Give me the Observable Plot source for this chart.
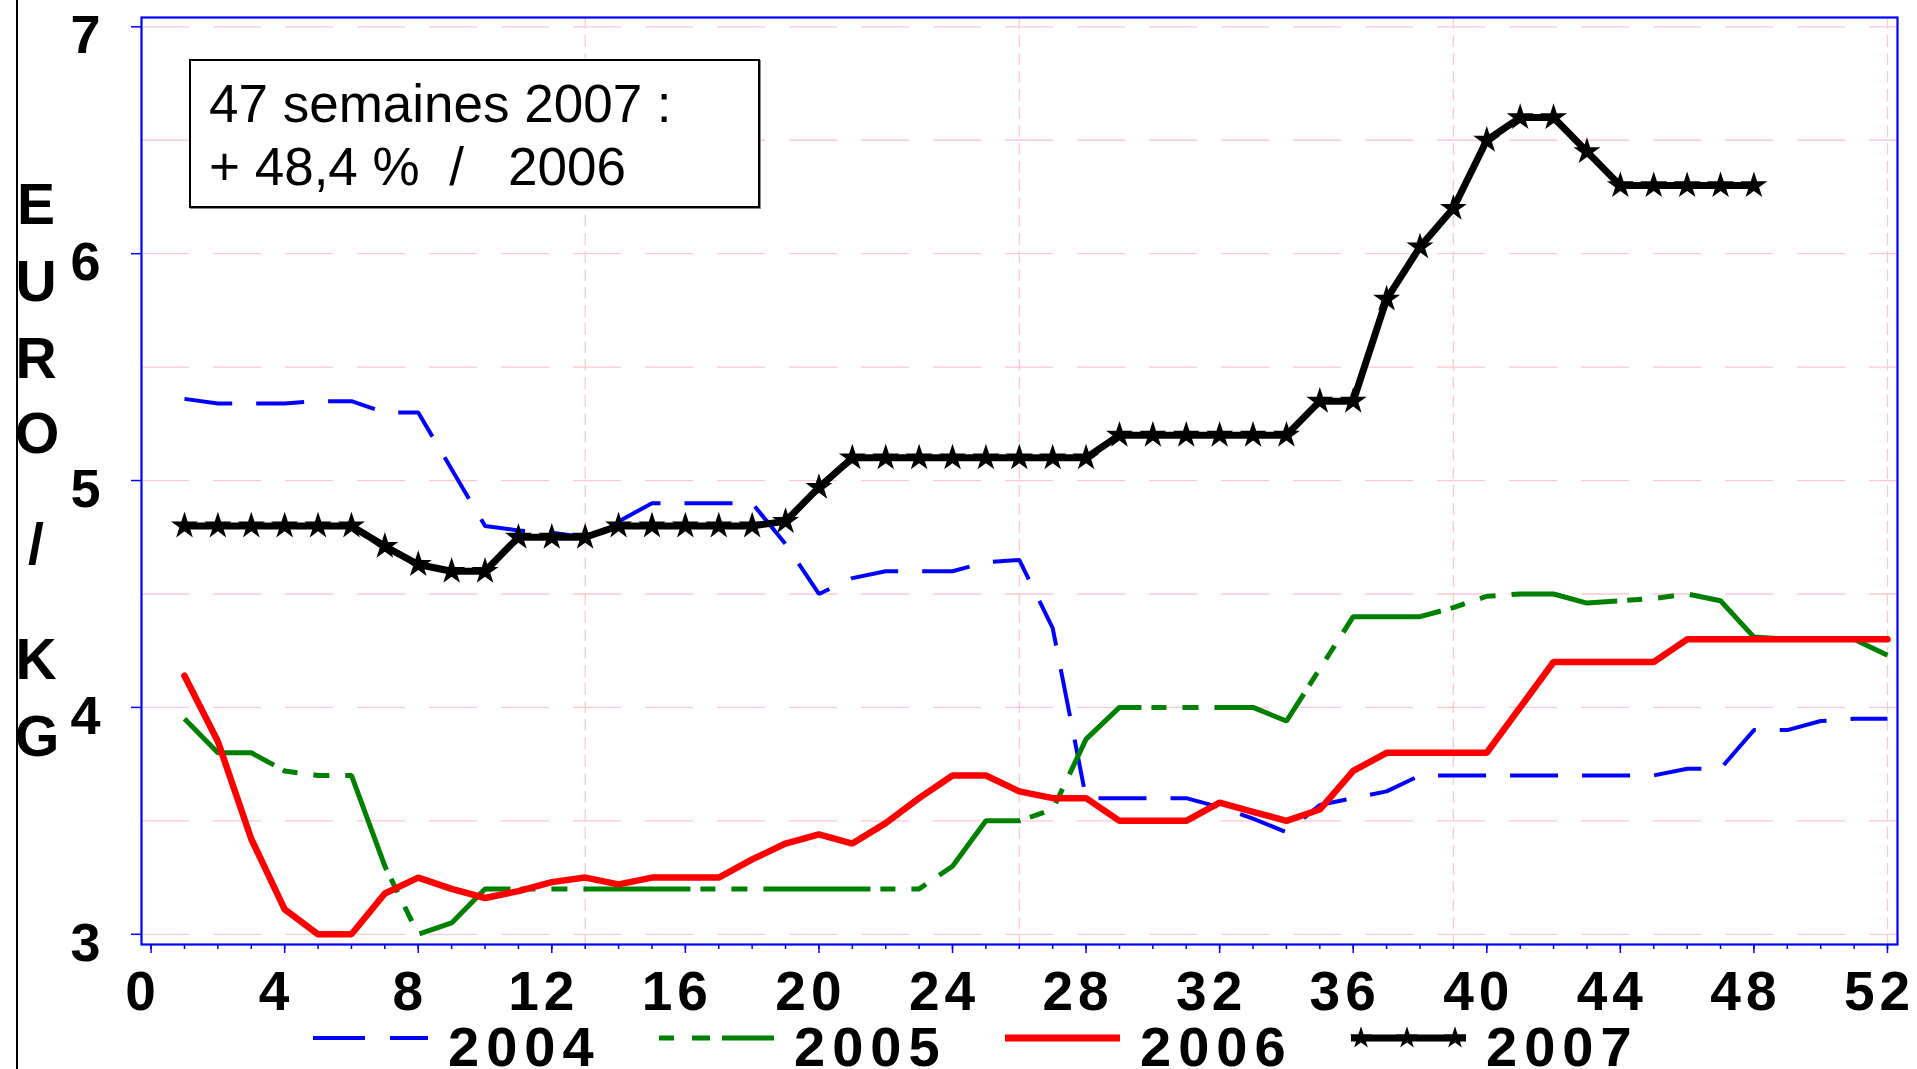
<!DOCTYPE html>
<html>
<head>
<meta charset="utf-8">
<script src="https://cdn.jsdelivr.net/npm/d3@7"></script>
<script src="https://cdn.jsdelivr.net/npm/@observablehq/plot@0.6"></script>
<style>
  html, body { margin: 0; padding: 0; background: #fff; overflow: hidden; }
  #wrap { position: relative; width: 1917px; height: 1069px; font-family: "Liberation Sans", Arial, sans-serif; color: #000; }
  #chart { position: absolute; left: 0; top: 0; }
  #vline { position: absolute; left: 16px; top: 0; width: 2px; height: 1069px; background: #000; }
  .ylet { position: absolute; left: 15px; width: 42px; text-align: center; font-weight: bold; font-size: 57px; line-height: 57px; }
  #note { position: absolute; left: 189px; top: 59px; width: 549px; height: 134px; border: 2px solid #000;
          box-shadow: 1px 1px 0 #888; background: #fff; font-size: 53px; line-height: 63px; white-space: pre;
          padding: 11px 0 0 18px; box-sizing: content-box; }
  #legend { position: absolute; left: 313px; top: 1027px; display: flex; }
  .item { width: 346px; height: 40px; display: flex; align-items: flex-start; }
  .item svg { width: 115px; height: 40px; flex: none; overflow: visible; }
  .item span { display: inline-block; height: 40px; overflow: hidden; margin-left: 20px; font-weight: bold;
               font-size: 56px; line-height: 40px; letter-spacing: 7px; }
  g[aria-label="x-axis tick label"] text { letter-spacing: 5px; }
</style>
</head>
<body>
<div id="wrap">
  <div id="chart"></div>
  <div id="vline"></div>
  <div class="ylet" style="top:176px">E</div>
  <div class="ylet" style="top:253px">U</div>
  <div class="ylet" style="top:330px">R</div>
  <div class="ylet" style="top:405px">O</div>
  <div class="ylet" style="top:516px">/</div>
  <div class="ylet" style="top:631px">K</div>
  <div class="ylet" style="top:708px">G</div>
  <div id="note">47 semaines 2007 :
+ 48,4 %  /   2006</div>
  <div id="legend"></div>
</div>
<script>
// ---- data ----
const weeks = [1,2,3,4,5,6,7,8,9,10,11,12,13,14,15,16,17,18,19,20,21,22,23,24,25,26,
               27,28,29,30,31,32,33,34,35,36,37,38,39,40,41,42,43,44,45,46,47,48,49,50,51,52];
const weeks2007 = [1,2,3,4,5,6,7,8,9,10,11,12,13,14,15,16,17,18,19,20,21,22,23,24,
                   25,26,27,28,29,30,31,32,33,34,35,36,37,38,39,40,41,42,43,44,45,46,47,48];

const values2004 = [5.36,5.34,5.34,5.34,5.35,5.35,5.30,5.30,5.05,4.80,4.78,4.77,4.75,4.82,4.90,4.90,
                    4.90,4.90,4.72,4.50,4.57,4.60,4.60,4.60,4.64,4.65,4.35,3.60,3.60,3.60,3.60,3.56,
                    3.51,3.45,3.57,3.60,3.63,3.70,3.70,3.70,3.70,3.70,3.70,3.70,3.70,3.73,3.73,3.90,
                    3.90,3.94,3.95,3.95];
const values2005 = [3.95,3.80,3.80,3.72,3.70,3.70,3.30,3.00,3.05,3.20,3.20,3.20,3.20,3.20,3.20,3.20,
                    3.20,3.20,3.20,3.20,3.20,3.20,3.20,3.30,3.50,3.50,3.55,3.86,4.00,4.00,4.00,4.00,
                    4.00,3.94,4.17,4.40,4.40,4.40,4.44,4.49,4.50,4.50,4.46,4.47,4.48,4.50,4.47,4.31,
                    4.30,4.30,4.30,4.23];
const values2006 = [4.14,3.85,3.42,3.11,3.00,3.00,3.18,3.25,3.20,3.16,3.19,3.23,3.25,3.22,3.25,3.25,
                    3.25,3.33,3.40,3.44,3.40,3.49,3.60,3.70,3.70,3.63,3.60,3.60,3.50,3.50,3.50,3.58,
                    3.54,3.50,3.55,3.72,3.80,3.80,3.80,3.80,4.00,4.20,4.20,4.20,4.20,4.30,4.30,4.30,
                    4.30,4.30,4.30,4.30];
const values2007 = [4.80,4.80,4.80,4.80,4.80,4.80,4.71,4.63,4.60,4.60,4.75,4.75,4.75,4.80,4.80,4.80,
                    4.80,4.80,4.82,4.97,5.10,5.10,5.10,5.10,5.10,5.10,5.10,5.10,5.20,5.20,5.20,5.20,
                    5.20,5.20,5.35,5.35,5.80,6.03,6.20,6.50,6.60,6.60,6.45,6.30,6.30,6.30,6.30,6.30];

const yTicks = [3,4,5,6,7];
const yGrid = [3,3.5,4,4.5,5,5.5,6,6.5,7];
const xTicks = [0,4,8,12,16,20,24,28,32,36,40,44,48,52];
const xMinorTicks = [0,1,2,3,4,5,6,7,8,9,10,11,12,13,14,15,16,17,18,19,20,21,22,23,24,25,26,
                     27,28,29,30,31,32,33,34,35,36,37,38,39,40,41,42,43,44,45,46,47,48,49,50,51,52];
const xGrid = [13,26,39,52];

const seriesNames = ["2004","2005","2006","2007"];
const seriesColors = ["#0000ff","#008000","#ff0000","#000000"];

// ---- tables ----
const d2004 = weeks.map((w,i) => ({week: w, value: values2004[i]}));
const d2005 = weeks.map((w,i) => ({week: w, value: values2005[i]}));
const d2006 = weeks.map((w,i) => ({week: w, value: values2006[i]}));
const d2007 = weeks2007.map((w,i) => ({week: w, value: values2007[i]}));

const grid = "#ffc8d2";
const chart = Plot.plot({
  width: 1917,
  height: 1069,
  marginLeft: 141,
  marginRight: 20,
  marginTop: 17,
  marginBottom: 125,
  style: {fontFamily: '"Liberation Sans", Arial, sans-serif', background: "transparent"},
  x: {domain: [-0.2875, 52.30], label: null},
  y: {domain: [2.955, 7.041], label: null},
  marks: [
    Plot.ruleY(yGrid, {stroke: grid, strokeWidth: 1.3, strokeDasharray: "48,24"}),
    Plot.ruleX(xGrid, {stroke: grid, strokeWidth: 1.3, strokeDasharray: "12,6"}),
    Plot.frame({stroke: "#0000ff", strokeWidth: 2.2}),
    // y ticks + labels
    Plot.axisY({ticks: yTicks, tickSize: 10, stroke: "#0000ff", strokeWidth: 1.5, tickFormat: () => "", label: null}),
    Plot.axisY({ticks: yTicks, tickSize: 0, tickPadding: 41, dy: 9, fill: "#000", fontSize: 54, fontWeight: "bold",
                tickFormat: d => String(d), label: null}),
    // x ticks
    Plot.axisX({ticks: xMinorTicks, tickSize: 5, stroke: "#0000ff", strokeWidth: 1.5, tickFormat: () => "", label: null}),
    Plot.axisX({ticks: xTicks, tickSize: 9, stroke: "#0000ff", strokeWidth: 1.5, tickFormat: () => "", label: null}),
    Plot.axisX({ticks: xTicks, tickSize: 0, tickPadding: 26, dx: -8, fill: "#000", fontSize: 55, fontWeight: "bold",
                tickFormat: d => String(d), label: null}),
    // series
    Plot.line(d2004, {x: "week", y: "value", stroke: seriesColors[0], strokeWidth: 4,
                      strokeDasharray: "48,24", strokeLinecap: "butt", strokeLinejoin: "miter"}),
    Plot.line(d2005, {x: "week", y: "value", stroke: seriesColors[1], strokeWidth: 5,
                      strokeDasharray: "107,10,15,16,16,16", strokeLinecap: "butt", strokeLinejoin: "miter"}),
    Plot.line(d2006, {x: "week", y: "value", stroke: seriesColors[2], strokeWidth: 6.5, strokeLinejoin: "miter"}),
    Plot.line(d2007, {x: "week", y: "value", stroke: seriesColors[3], strokeWidth: 7, strokeLinejoin: "miter"}),
    Plot.dot(d2007, {x: "week", y: "value", symbol: "star", r: 8.5, fill: seriesColors[3], stroke: "none"})
  ]
});
document.getElementById("chart").appendChild(chart);

// ---- legend ----
const legend = document.getElementById("legend");
const starPath = d3.symbol(d3.symbolStar, Math.PI * 49)();
const swatchDash = ["52,25", "15,18,18,12,52,20", null, null];
const swatchWidth = [4, 5, 7, 7];
seriesNames.forEach((name, i) => {
  const item = document.createElement("div");
  item.className = "item";
  const ns = "http://www.w3.org/2000/svg";
  const svg = document.createElementNS(ns, "svg");
  const ln = document.createElementNS(ns, "line");
  ln.setAttribute("x1", 0); ln.setAttribute("x2", 115);
  ln.setAttribute("y1", 11); ln.setAttribute("y2", 11);
  ln.setAttribute("stroke", seriesColors[i]);
  ln.setAttribute("stroke-width", swatchWidth[i]);
  if (swatchDash[i]) ln.setAttribute("stroke-dasharray", swatchDash[i]);
  svg.appendChild(ln);
  if (name === "2007") {
    [10, 56, 104].forEach(cx => {
      const p = document.createElementNS(ns, "path");
      p.setAttribute("d", starPath);
      p.setAttribute("transform", `translate(${cx},11)`);
      p.setAttribute("fill", "#000");
      svg.appendChild(p);
    });
  }
  item.appendChild(svg);
  const t = document.createElement("span");
  t.textContent = name;
  item.appendChild(t);
  legend.appendChild(item);
});
</script>
</body>
</html>
